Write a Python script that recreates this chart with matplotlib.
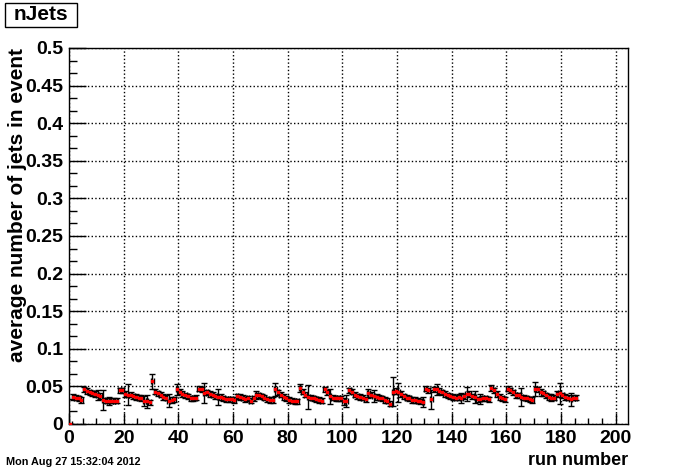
import matplotlib
matplotlib.use("Agg")
import matplotlib.pyplot as plt
from matplotlib.ticker import MultipleLocator
from matplotlib.patches import Rectangle
import numpy as np

# average number of jets per event, one bin per run index (bins 0..185)
values = [
    0.0, 0.036, 0.035, 0.034, 0.032, 0.046, 0.044, 0.042, 0.041, 0.040,
    0.038, 0.037, 0.032, 0.031, 0.031, 0.031, 0.031, 0.031, 0.045, 0.045,
    0.040, 0.039, 0.039, 0.037, 0.036, 0.035, 0.034, 0.031, 0.030, 0.029,
    0.057, 0.043, 0.041, 0.039, 0.036, 0.035, 0.031, 0.032, 0.033, 0.046,
    0.043, 0.040, 0.038, 0.037, 0.034, 0.034, 0.035, 0.047, 0.046, 0.041,
    0.042, 0.040, 0.039, 0.037, 0.036, 0.036, 0.034, 0.033, 0.033, 0.033,
    0.032, 0.037, 0.036, 0.035, 0.033, 0.034, 0.031, 0.034, 0.039, 0.038,
    0.037, 0.035, 0.033, 0.032, 0.032, 0.046, 0.042, 0.039, 0.036, 0.034,
    0.032, 0.031, 0.030, 0.030, 0.048, 0.043, 0.039, 0.036, 0.035, 0.034,
    0.033, 0.032, 0.031, 0.046, 0.042, 0.037, 0.035, 0.034, 0.034, 0.034,
    0.030, 0.031, 0.045, 0.043, 0.039, 0.037, 0.036, 0.035, 0.033, 0.041,
    0.039, 0.037, 0.036, 0.035, 0.034, 0.032, 0.031, 0.027, 0.043, 0.044,
    0.042, 0.040, 0.037, 0.035, 0.034, 0.032, 0.032, 0.031, 0.030, 0.029,
    0.047, 0.045, 0.033, 0.046, 0.046, 0.044, 0.042, 0.040, 0.038, 0.037,
    0.036, 0.035, 0.036, 0.035, 0.037, 0.040, 0.040, 0.037, 0.036, 0.033,
    0.033, 0.034, 0.034, 0.033, 0.048, 0.045, 0.040, 0.036, 0.034, 0.033,
    0.047, 0.045, 0.042, 0.038, 0.038, 0.036, 0.035, 0.034, 0.033, 0.032,
    0.047, 0.046, 0.042, 0.041, 0.038, 0.036, 0.035, 0.035, 0.040, 0.041,
    0.038, 0.036, 0.035, 0.033, 0.035, 0.035,
]
errors = [
    0.0, 0.0035, 0.0035, 0.0035, 0.0035, 0.0035, 0.0035, 0.0035, 0.0035, 0.004,
    0.0066, 0.004, 0.013, 0.0035, 0.0055, 0.0035, 0.0035, 0.0035, 0.0035, 0.0035,
    0.0035, 0.014, 0.0035, 0.0035, 0.0035, 0.0035, 0.004, 0.0066, 0.009, 0.0035,
    0.010, 0.0035, 0.0035, 0.0035, 0.0035, 0.0035, 0.009, 0.0035, 0.0035, 0.0073,
    0.0035, 0.0035, 0.0035, 0.0035, 0.0035, 0.0035, 0.0035, 0.0035, 0.0035, 0.013,
    0.0035, 0.0035, 0.0035, 0.0035, 0.011, 0.0035, 0.0035, 0.0035, 0.0035, 0.0035,
    0.0035, 0.0035, 0.0035, 0.0035, 0.0035, 0.0035, 0.0035, 0.0035, 0.0055, 0.0035,
    0.0035, 0.0035, 0.0035, 0.0035, 0.0044, 0.009, 0.0035, 0.0035, 0.0035, 0.0035,
    0.0035, 0.0035, 0.0035, 0.0035, 0.0055, 0.0035, 0.0035, 0.016, 0.0035, 0.0035,
    0.0035, 0.0035, 0.0035, 0.0035, 0.0035, 0.010, 0.0035, 0.0035, 0.0035, 0.0035,
    0.0045, 0.0078, 0.0035, 0.0035, 0.0035, 0.0035, 0.0035, 0.0035, 0.0035, 0.006,
    0.0035, 0.0078, 0.0035, 0.0035, 0.0035, 0.0035, 0.0035, 0.0035, 0.019, 0.0035,
    0.013, 0.0035, 0.0035, 0.0035, 0.0035, 0.0035, 0.0035, 0.0035, 0.0035, 0.0066,
    0.0035, 0.0035, 0.0124, 0.0035, 0.007, 0.0035, 0.0035, 0.0035, 0.0035, 0.0035,
    0.0035, 0.0035, 0.0035, 0.0066, 0.0035, 0.0095, 0.0035, 0.0035, 0.0084, 0.0035,
    0.0066, 0.0035, 0.0035, 0.0035, 0.0044, 0.0035, 0.0035, 0.0035, 0.0035, 0.0035,
    0.0035, 0.0035, 0.0035, 0.0035, 0.0035, 0.0115, 0.0035, 0.0035, 0.0035, 0.0035,
    0.0093, 0.0035, 0.005, 0.0035, 0.0035, 0.0035, 0.005, 0.0035, 0.0035, 0.014,
    0.0035, 0.0035, 0.0035, 0.0084, 0.0035, 0.0035,
]
bin_centers = np.arange(len(values)) + 0.5

plt.rcParams['font.family'] = ['Liberation Sans', 'DejaVu Sans']
plt.rcParams['font.weight'] = 'bold'

W, H = 696, 472
fig = plt.figure(figsize=(W/100, H/100), dpi=100)
ax = fig.add_axes([69/W, 48/H, (628-69)/W, (424-48)/H])

ax.errorbar(bin_centers, values, yerr=errors, xerr=0.5, fmt='s', color='red',
            ms=1.9, mec='red', ecolor='black', elinewidth=1, capsize=2.5,
            capthick=1, zorder=3)

ax.set_xlim(0, 204.5)
ax.set_ylim(0, 0.5)
ax.xaxis.set_major_locator(MultipleLocator(20))
ax.xaxis.set_minor_locator(MultipleLocator(5))
ax.yaxis.set_major_locator(MultipleLocator(0.05))
ax.yaxis.set_minor_locator(MultipleLocator(0.05/3))
ax.yaxis.set_major_formatter(plt.FuncFormatter(lambda v, p: '0' if v == 0 else ('%g' % round(v, 2))))

ax.tick_params(which='both', direction='in', top=False, right=False,
               labelsize=14, width=1, pad=4)
ax.tick_params(axis='x', which='major', length=8)
ax.tick_params(axis='x', which='minor', length=4)
ax.tick_params(axis='y', which='major', length=12)
ax.tick_params(axis='y', which='minor', length=6)
for lbl in ax.get_xticklabels() + ax.get_yticklabels():
    lbl.set_fontweight('bold')

ax.grid(True, which='major', color='black', linestyle=':', linewidth=1)
for s in ax.spines.values():
    s.set_linewidth(1)

ax.set_xlabel('run number', fontsize=13, fontweight='bold', loc='right')
ax.set_ylabel('average number of jets in event', fontsize=15, fontweight='bold', loc='top')
ax.yaxis.set_label_coords((27-69)/559, 1.0)

# title box in the top-left corner
fig.patches.append(Rectangle((5/W, 1 - 27/H), 72/W, 24/H, transform=fig.transFigure,
                             facecolor='white', edgecolor='black', linewidth=1))
fig.text(41/W, 1 - 15/H, 'nJets', fontsize=15, fontweight='bold', va='center', ha='center')
fig.text(6/W, 1 - 462/H, 'Mon Aug 27 15:32:04 2012', fontsize=7.8, fontweight='bold',
         va='center', ha='left')

fig.savefig('out.png', dpi=100)
